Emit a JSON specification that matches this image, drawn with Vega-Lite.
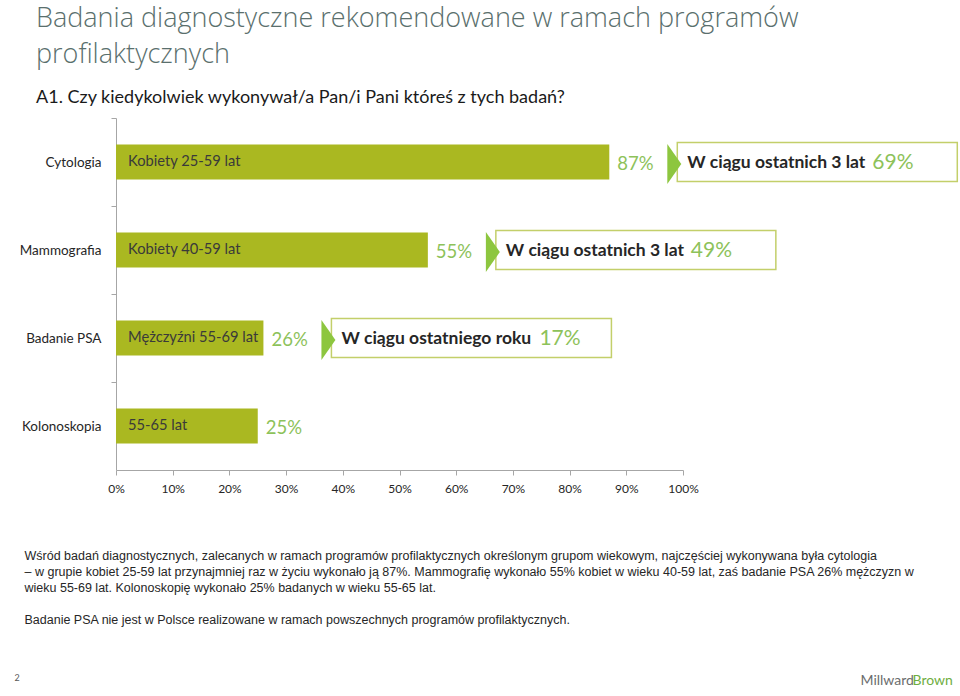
{
  "$schema": "https://vega.github.io/schema/vega-lite/v6.json",
  "width": 567,
  "height": 352,
  "autosize": {"type": "none"},
  "padding": {"left": 116, "top": 118, "right": 277, "bottom": 226},
  "background": "white",
  "config": {"view": {"stroke": null}, "font": "Lato"},
  "title": {
    "text": ["Badania diagnostyczne rekomendowane w ramach programów", "profilaktycznych"],
    "subtitle": "A1.  Czy kiedykolwiek wykonywał/a Pan/i Pani któreś z tych badań?",
    "anchor": "start",
    "frame": "group",
    "dx": -80,
    "font": "Open Sans",
    "fontSize": 27,
    "fontWeight": 300,
    "color": "#5a6f6d",
    "lineHeight": 36,
    "subtitleFont": "Lato",
    "subtitleFontSize": 18,
    "subtitleColor": "#1a1a1a",
    "subtitlePadding": 20,
    "offset": 10
  },
  "data": {
    "values": [
      {"badanie": "Cytologia", "grupa": "Kobiety 25-59 lat", "wartosc": 0.87, "okres": "W ciągu ostatnich 3 lat", "ostatnio": 0.69},
      {"badanie": "Mammografia", "grupa": "Kobiety 40-59 lat", "wartosc": 0.55, "okres": "W ciągu ostatnich 3 lat", "ostatnio": 0.49},
      {"badanie": "Badanie PSA", "grupa": "Mężczyźni 55-69 lat", "wartosc": 0.26, "okres": "W ciągu ostatniego roku", "ostatnio": 0.17},
      {"badanie": "Kolonoskopia", "grupa": "55-65 lat", "wartosc": 0.25, "okres": null, "ostatnio": null}
    ]
  },
  "layer": [
    {
      "encoding": {
        "y": {
          "field": "badanie",
          "type": "nominal",
          "sort": null,
          "scale": {"paddingInner": 0.6, "paddingOuter": 0.3},
          "axis": {
            "title": "2",
            "titleAngle": 0,
            "titleX": -102,
            "titleY": 562,
            "titleAlign": "left",
            "titleBaseline": "alphabetic",
            "titleFontSize": 9,
            "titleFontWeight": "normal",
            "titleColor": "#595959",
            "labelFont": "Lato",
            "labelFontSize": 13.5,
            "labelColor": "#262626",
            "labelPadding": 10,
            "tickSize": 5,
            "tickColor": "#a6a6a6",
            "domainColor": "#a6a6a6",
            "tickOffset": -44,
            "labelOffset": 44
          }
        }
      },
      "layer": [
        {
          "mark": {"type": "bar", "color": "#aab821"},
          "encoding": {
            "x": {
              "field": "wartosc",
              "type": "quantitative",
              "scale": {"domain": [0, 1]},
              "axis": {
                "format": "%",
                "values": [0, 0.1, 0.2, 0.3, 0.4, 0.5, 0.6, 0.7, 0.8, 0.9, 1],
                "grid": false,
                "labelFlush": false,
                "domainColor": "#a6a6a6",
                "tickColor": "#a6a6a6",
                "tickSize": 5,
                "labelFont": "Lato",
                "labelFontSize": 12,
                "labelColor": "#262626",
                "labelPadding": 8,
                "title": [
                  "Wśród badań diagnostycznych, zalecanych w ramach programów profilaktycznych określonym grupom wiekowym, najczęściej wykonywana była cytologia",
                  "– w grupie kobiet 25-59 lat przynajmniej raz w życiu wykonało ją 87%.  Mammografię wykonało 55% kobiet w wieku 40-59 lat, zaś badanie PSA 26% mężczyzn w",
                  "wieku 55-69 lat. Kolonoskopię wykonało 25% badanych w wieku 55-65 lat.",
                  "\u2800",
                  "Badanie PSA nie jest w Polsce realizowane w ramach powszechnych programów profilaktycznych."
                ],
                "titleX": -92,
                "titleY": 89,
                "titleAlign": "left",
                "titleAnchor": "start",
                "titleBaseline": "alphabetic",
                "titleFont": "Liberation Sans",
                "titleFontSize": 12.5,
                "titleFontWeight": "normal",
                "titleColor": "#262626",
                "titleLineHeight": 16
              }
            }
          }
        },
        {
          "mark": {"type": "text", "align": "left", "baseline": "middle", "dx": 12, "fontSize": 14.7, "color": "#3a3a3a"},
          "encoding": {
            "x": {"datum": 0, "type": "quantitative"},
            "text": {"field": "grupa"}
          }
        },
        {
          "mark": {"type": "text", "align": "left", "baseline": "middle", "dx": 8, "dy": 2, "fontSize": 18.5, "color": "#8dc25a"},
          "encoding": {
            "x": {"field": "wartosc", "type": "quantitative"},
            "text": {"field": "wartosc", "format": ".0%"}
          }
        },
        {
          "transform": [{"filter": "datum.ostatnio != null"}],
          "mark": {"type": "bar", "fill": "white", "stroke": "#c3cf6a", "strokeWidth": 1.5, "height": 39, "xOffset": 68, "x2Offset": 348},
          "encoding": {
            "x": {"field": "wartosc", "type": "quantitative"},
            "x2": {"field": "wartosc"}
          }
        },
        {
          "transform": [{"filter": "datum.ostatnio != null"}],
          "mark": {"type": "point", "shape": "M-0.35,-1L0.35,0L-0.35,1Z", "size": 1600, "filled": true, "color": "#8dc63f", "opacity": 1, "xOffset": 65, "yOffset": 2},
          "encoding": {
            "x": {"field": "wartosc", "type": "quantitative"}
          }
        },
        {
          "transform": [{"filter": "datum.ostatnio != null"}],
          "mark": {"type": "text", "align": "left", "baseline": "middle", "dx": 78, "dy": 1, "fontSize": 17.5, "fontWeight": "bold", "color": "#262626"},
          "encoding": {
            "x": {"field": "wartosc", "type": "quantitative"},
            "text": {"field": "okres"}
          }
        },
        {
          "transform": [{"filter": "datum.okres == 'W ciągu ostatnich 3 lat'"}],
          "mark": {"type": "text", "align": "left", "baseline": "middle", "dx": 263, "dy": 1, "fontSize": 21, "color": "#8dc25a"},
          "encoding": {
            "x": {"field": "wartosc", "type": "quantitative"},
            "text": {"field": "ostatnio", "format": ".0%"}
          }
        },
        {
          "transform": [{"filter": "datum.okres == 'W ciągu ostatniego roku'"}],
          "mark": {"type": "text", "align": "left", "baseline": "middle", "dx": 276, "dy": 1, "fontSize": 21, "color": "#8dc25a"},
          "encoding": {
            "x": {"field": "wartosc", "type": "quantitative"},
            "text": {"field": "ostatnio", "format": ".0%"}
          }
        }
      ]
    },
    {
      "mark": {"type": "text", "text": ""},
      "encoding": {
        "x": {
          "field": "wartosc",
          "type": "quantitative",
          "scale": {"domain": [0, 1]},
          "axis": {
            "orient": "top",
            "domain": false,
            "ticks": false,
            "labels": false,
            "grid": false,
            "title": "Millward",
            "titleX": 744,
            "titleY": 566,
            "titleAlign": "left",
            "titleAnchor": "start",
            "titleBaseline": "alphabetic",
            "titleFont": "Lato",
            "titleFontSize": 14,
            "titleFontWeight": "normal",
            "titleColor": "#6b6d6e"
          }
        },
        "y": {
          "field": "badanie",
          "type": "nominal",
          "sort": null,
          "scale": {"paddingInner": 0.6, "paddingOuter": 0.3},
          "axis": {
            "orient": "right",
            "domain": false,
            "ticks": false,
            "labels": false,
            "grid": false,
            "title": "Brown",
            "titleAngle": 0,
            "titleX": 229,
            "titleY": 566,
            "titleAlign": "left",
            "titleBaseline": "alphabetic",
            "titleFont": "Lato",
            "titleFontSize": 14,
            "titleFontWeight": "normal",
            "titleColor": "#6fae3f"
          }
        }
      }
    }
  ],
  "resolve": {"scale": {"x": "independent", "y": "independent"}}
}
